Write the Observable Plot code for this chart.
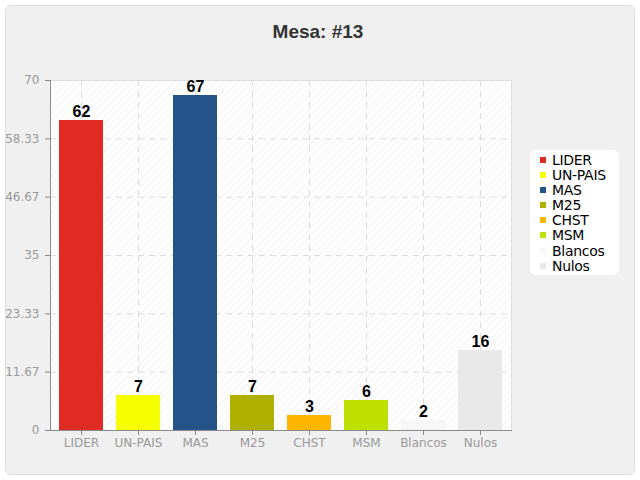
<!DOCTYPE html>
<html>
<head>
<meta charset="utf-8">
<script src="https://cdn.jsdelivr.net/npm/d3@7"></script>
<script src="https://cdn.jsdelivr.net/npm/@observablehq/plot@0.6"></script>
<style>
  html, body { margin: 0; padding: 0; background: #fff; width: 640px; height: 480px; overflow: hidden; }
  #box { position: absolute; left: 5px; top: 5px; width: 628px; height: 468px; background: #f0f0f0; border: 1px solid #dcdcdc; border-radius: 6px; }
  #title { position: absolute; left: 0; top: 21px; width: 636px; text-align: center; font: bold 19px "Liberation Sans", Arial, sans-serif; color: #333; }
  #chart { position: absolute; left: 0; top: 0; }
  #legend { position: absolute; left: 530px; top: 150px; width: 89px; height: 125px; background: #fff; border-radius: 6px; box-sizing: border-box; padding: 3px 0 0 10px; font: 14px "DejaVu Sans", sans-serif; color: #000; }
  #legend .item { height: 15.1px; line-height: 15px; white-space: nowrap; letter-spacing: -0.3px; }
  #legend .sw { display: inline-block; width: 6px; height: 6px; margin-right: 6px; vertical-align: middle; position: relative; top: -1px; }
</style>
</head>
<body>
<div id="box"></div>
<div id="title">Mesa: #13</div>
<div id="chart"></div>
<div id="legend"></div>
<script>
const categories = ["LIDER", "UN-PAIS", "MAS", "M25", "CHST", "MSM", "Blancos", "Nulos"];
const votes = [62, 7, 67, 7, 3, 6, 2, 16];
const colors = ["#e02b24", "#f5ff00", "#245389", "#b0b000", "#ffb600", "#bde000", "#f7f7f7", "#e9e9e9"];
const yTicks = [0, 11.67, 23.33, 35, 46.67, 58.33, 70];

const data = categories.map((c, i) => ({cat: c, v: votes[i]}));

const chart = Plot.plot({
  width: 640,
  height: 480,
  marginLeft: 50,
  marginRight: 129,
  marginTop: 80,
  marginBottom: 50,
  style: {background: "transparent", fontFamily: "DejaVu Sans", fontSize: "12px", overflow: "visible"},
  x: {domain: categories, paddingInner: 0.22, paddingOuter: 0.11, label: null, axis: null},
  y: {domain: [0, 70], label: null, axis: null},
  color: {domain: categories, range: colors},
  marks: [
    Plot.frame({fill: "url(#hatch)", stroke: "#dedede"}),
    Plot.gridX(categories, {stroke: "#dcdcdc", strokeOpacity: 1, strokeDasharray: "6,5"}),
    Plot.gridY(yTicks, {stroke: "#dcdcdc", strokeOpacity: 1, strokeDasharray: "6,5"}),
    Plot.barY(data, {x: "cat", y: "v", fill: "cat"}),
    Plot.text(data, {x: "cat", y: "v", text: d => String(d.v), dy: -4, lineAnchor: "bottom", fontWeight: "bold", fontSize: 16, fill: "#000", fontFamily: "Liberation Sans, Arial, sans-serif"}),
    Plot.frame({anchor: "left", stroke: "#8a8a8a"}),
    Plot.frame({anchor: "bottom", stroke: "#8a8a8a"}),
    Plot.axisY(yTicks, {tickSize: 5, tickPadding: 6, stroke: "#8a8a8a", strokeOpacity: 1, fill: "#999", tickFormat: d => String(d), fontSize: 12, marginLeft: 50}),
    Plot.axisX({tickSize: 5, tickPadding: 3, stroke: "#8a8a8a", strokeOpacity: 1, fill: "#999", fontSize: 12})
  ]
});

const ns = "http://www.w3.org/2000/svg";
const defs = document.createElementNS(ns, "defs");
defs.innerHTML = '<pattern id="hatch" width="5" height="5" patternUnits="userSpaceOnUse" patternTransform="rotate(45)"><rect width="5" height="5" fill="#ffffff"/><line x1="0" y1="0" x2="0" y2="5" stroke="#efefef" stroke-width="1.4"/></pattern>';
chart.insertBefore(defs, chart.firstChild);
document.getElementById("chart").appendChild(chart);

const legend = document.getElementById("legend");
categories.forEach((c, i) => {
  const item = document.createElement("div");
  item.className = "item";
  const sw = document.createElement("span");
  sw.className = "sw";
  sw.style.background = colors[i];
  item.appendChild(sw);
  item.appendChild(document.createTextNode(c));
  legend.appendChild(item);
});
</script>
</body>
</html>
